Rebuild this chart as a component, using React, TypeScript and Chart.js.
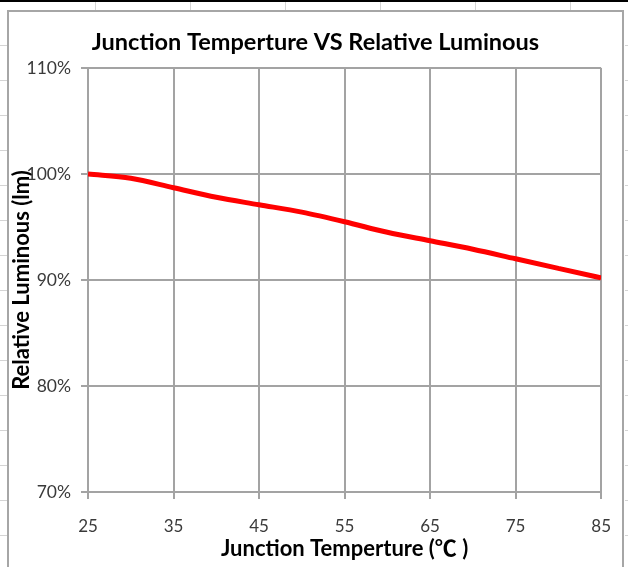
import React, { useEffect, useRef } from "react";
import { Chart, registerables } from "chart.js";

Chart.register(...registerables);

const temperatures = [25, 30, 35, 40, 45, 50, 55, 60, 65, 70, 75, 80, 85];
const relativeLuminous = [100, 99.6, 98.7, 97.8, 97.1, 96.4, 95.5, 94.5, 93.7, 92.9, 92.0, 91.1, 90.2];
const xTicks = [25, 35, 45, 55, 65, 75, 85];
const yTicks = [70, 80, 90, 100, 110];

const chartTitle = "Junction Temperture VS Relative Luminous";
const xTitle = "Junction Temperture (\u2103 )";
const yTitle = "Relative Luminous (lm)";

const FONT = "Lato, 'Noto Sans CJK SC', sans-serif";
const GRID = "#a3a3a3";
const TICK_COLOR = "#3a3a3a";

const framePlugin = {
  id: "frame",
  beforeDraw(chart: any) {
    const ctx = chart.ctx;
    const w = chart.width;
    const h = chart.height;
    ctx.save();
    ctx.fillStyle = "#ffffff";
    ctx.fillRect(0, 0, w, h);
    // faint sheet marks
    ctx.strokeStyle = "#d4d4d4";
    ctx.lineWidth = 1;
    for (let x = 95; x < w; x += 95) {
      ctx.beginPath();
      ctx.moveTo(x + 0.5, 2);
      ctx.lineTo(x + 0.5, 10);
      ctx.stroke();
    }
    for (let y = 45; y < h; y += 35) {
      ctx.beginPath();
      ctx.moveTo(0, y + 0.5);
      ctx.lineTo(7, y + 0.5);
      ctx.moveTo(625, y + 0.5);
      ctx.lineTo(w, y + 0.5);
      ctx.stroke();
    }
    // top black line
    ctx.fillStyle = "#000000";
    ctx.fillRect(0, 0, w, 2);
    // chart border
    ctx.strokeStyle = "#a6a6a6";
    ctx.lineWidth = 2;
    ctx.beginPath();
    ctx.moveTo(8, h + 5);
    ctx.lineTo(8, 11);
    ctx.lineTo(623, 11);
    ctx.lineTo(623, h + 5);
    ctx.stroke();
    // chart title
    ctx.fillStyle = "#000000";
    ctx.font = "bold 23.5px " + FONT;
    ctx.textAlign = "center";
    ctx.textBaseline = "alphabetic";
    ctx.fillText(chartTitle, 315.5, 50);
    ctx.restore();
  },
};

export default function App() {
  const ref = useRef<HTMLCanvasElement | null>(null);

  useEffect(() => {
    document.body.style.margin = "0";
    if (!ref.current) return;
    const chart = new Chart(ref.current, {
      type: "line",
      data: {
        datasets: [
          {
            data: temperatures.map((t, i) => ({ x: t, y: relativeLuminous[i] })),
            borderColor: "#ff0000",
            borderWidth: 5,
            pointRadius: 0,
            tension: 0.4,
            cubicInterpolationMode: "monotone",
            fill: false,
          },
        ],
      },
      options: {
        animation: false,
        responsive: false,
        devicePixelRatio: 1,
        layout: { padding: { left: 8, right: 26, top: 68, bottom: 0 } },
        plugins: {
          legend: { display: false },
          tooltip: { enabled: false },
          title: { display: false },
        },
        scales: {
          x: {
            type: "linear",
            min: 25,
            max: 85,
            afterBuildTicks: (s: any) => {
              s.ticks = xTicks.map((v) => ({ value: v }));
            },
            afterFit: (s: any) => {
              s.height = 75;
            },
            grid: { color: GRID, lineWidth: 2, tickLength: 7, drawTicks: true },
            border: { display: true, color: GRID, width: 2 },
            ticks: {
              color: TICK_COLOR,
              font: { family: FONT, size: 17 },
              padding: 17,
              maxRotation: 0,
            },
            title: {
              display: true,
              text: xTitle,
              color: "#000000",
              font: { family: FONT, size: 22, weight: "bold" },
              padding: { top: 0, bottom: 5 },
            },
          },
          y: {
            type: "linear",
            min: 70,
            max: 110,
            afterBuildTicks: (s: any) => {
              s.ticks = yTicks.map((v) => ({ value: v }));
            },
            afterFit: (s: any) => {
              s.width = 80;
            },
            grid: { color: GRID, lineWidth: 2, tickLength: 7, drawTicks: true },
            border: { display: true, color: GRID, width: 2 },
            ticks: {
              color: TICK_COLOR,
              font: { family: FONT, size: 17.5 },
              padding: 10,
              callback: (v: any) => v + "%",
            },
            title: {
              display: true,
              text: yTitle,
              color: "#000000",
              font: { family: FONT, size: 22, weight: "bold" },
              padding: { top: 1, bottom: 0 },
            },
          },
        },
      },
      plugins: [framePlugin],
    } as any);
    return () => chart.destroy();
  }, []);

  return (
    <div style={{ position: "absolute", left: 0, top: 0, width: 628, height: 567 }}>
      <canvas ref={ref} width={628} height={567} style={{ width: 628, height: 567, display: "block" }} />
    </div>
  );
}
